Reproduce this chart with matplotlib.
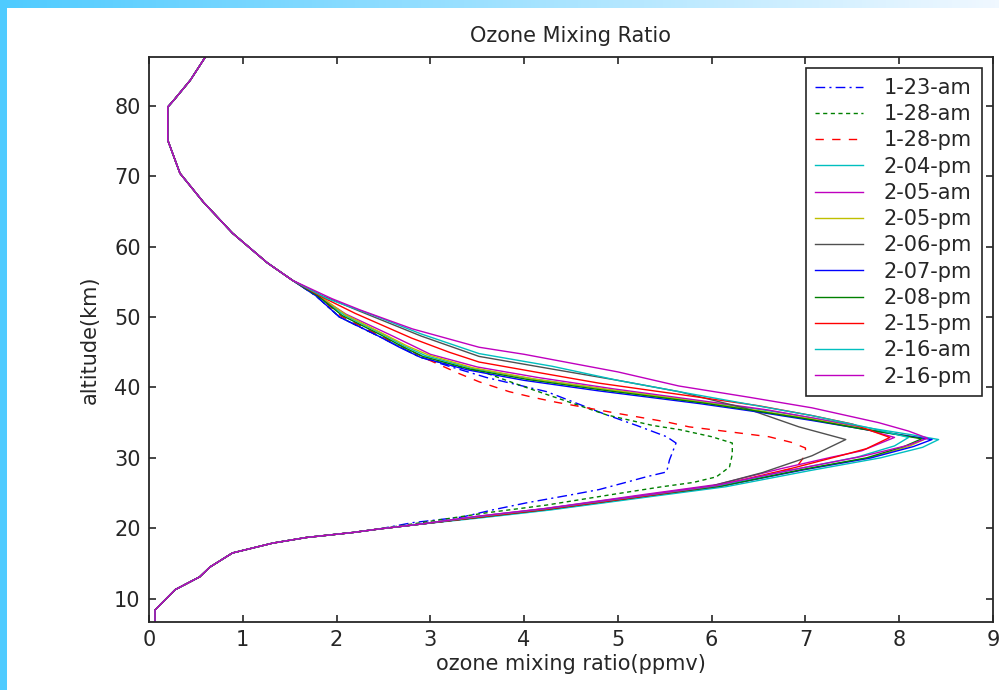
import numpy as np
import matplotlib
matplotlib.use("Agg")
import matplotlib.pyplot as plt
from matplotlib.patches import Rectangle

plt.rcParams['font.family'] = ['DejaVu Sans']

# shared parts of every profile (x = ppmv, alt = km)
top_part = [(0.63, 87.5), (0.44, 83.6), (0.26, 80.7), (0.20, 79.8), (0.20, 75.1),
            (0.33, 70.4), (0.58, 66.3), (0.89, 61.9), (1.26, 57.7), (1.53, 55.2)]
bottom_part = [(2.45, 19.9), (2.17, 19.4), (1.68, 18.7), (1.32, 17.9), (0.89, 16.5),
               (0.65, 14.5), (0.54, 13.1), (0.28, 11.3), (0.064, 8.4), (0.064, 6.0)]

# middle of each profile
mid_0123am = [(1.78, 53.0), (2.03, 50.0), (2.46, 47.2), (2.89, 44.3), (3.2, 43.0), (3.6, 41.4),
              (4.24, 39.4), (4.88, 36.1), (5.2, 34.6), (5.52, 33.0), (5.62, 32.1), (5.55, 29.7),
              (5.52, 28.0), (5.3, 27.3), (5.08, 26.5), (4.8, 25.5), (4.52, 24.8), (4.02, 23.6),
              (3.66, 22.6), (3.34, 21.6), (2.81, 20.8)]
mid_0128am = [(1.78, 53.0), (2.03, 50.0), (2.46, 47.2), (2.89, 44.3), (3.2, 43.2), (3.56, 42.2),
              (4.02, 40.0), (4.66, 37.1), (4.88, 36.1), (5.37, 34.6), (5.66, 34.0), (6.0, 33.0),
              (6.22, 32.1), (6.22, 30.5), (6.19, 28.7), (6.05, 27.3), (5.8, 26.5), (5.47, 25.9),
              (4.94, 24.8), (4.24, 23.3), (3.6, 22.2), (2.9, 20.8)]
mid_0128pm = [(1.80, 53.0), (2.05, 50.1), (2.47, 47.3), (2.7, 45.8), (3.0, 43.8), (3.3, 42.0),
              (3.52, 40.8), (3.84, 39.4), (4.09, 38.6), (4.34, 37.9), (5.0, 36.3), (5.52, 35.1),
              (5.76, 34.4), (6.19, 33.7), (6.61, 33.0), (6.85, 32.2), (7.0, 31.4), (7.0, 30.4),
              (6.9, 28.6), (6.1, 26.1), (5.3, 24.6), (4.24, 22.7), (3.53, 21.6), (2.9, 20.6)]
mid_0204pm = [(1.80, 53.0), (2.08, 50.3), (2.5, 47.5), (2.72, 45.9), (2.95, 44.5), (3.45, 42.7),
              (4.1, 41.2), (4.9, 39.7), (5.95, 37.9), (6.6, 36.7), (7.15, 35.5), (7.7, 34.2),
              (8.12, 33.3), (8.42, 32.6), (8.25, 31.5), (7.8, 30.0), (7.05, 28.2), (6.15, 25.9),
              (5.35, 24.5), (4.28, 22.6), (3.55, 21.5), (2.9, 20.6)]
mid_0205am = [(1.80, 53.0), (2.1, 50.4), (2.55, 47.6), (2.8, 46.0), (3.0, 44.7), (3.5, 42.9),
              (4.15, 41.4), (4.95, 39.8), (5.95, 38.0), (6.6, 36.8), (7.1, 35.6), (7.55, 34.4),
              (7.95, 32.9), (7.6, 31.0), (7.28, 30.1), (6.75, 28.5), (6.05, 26.2), (5.28, 24.8),
              (4.22, 22.8), (3.5, 21.7), (2.9, 20.6)]
mid_0205pm = [(1.82, 53.0), (2.1, 50.3), (2.5, 47.6), (2.75, 45.9), (2.98, 44.6), (3.45, 42.8),
              (4.1, 41.2), (4.9, 39.7), (5.9, 37.9), (6.5, 36.7), (7.07, 35.5), (7.6, 34.2),
              (8.0, 33.3), (8.28, 32.7), (8.1, 31.6), (7.68, 30.0), (6.96, 28.3), (6.1, 26.0),
              (5.3, 24.6), (4.24, 22.7), (3.53, 21.6), (2.9, 20.6)]
mid_0206pm = [(1.85, 53.0), (2.25, 50.8), (2.9, 47.3), (3.52, 44.4), (4.3, 42.6), (5.0, 41.0),
              (5.65, 39.4), (6.37, 37.0), (6.93, 34.4), (7.43, 32.6), (7.07, 30.3), (6.54, 27.9),
              (6.0, 26.0), (5.3, 24.6), (4.24, 22.7), (3.53, 21.6), (2.9, 20.6)]
mid_0207pm = [(1.78, 53.0), (2.03, 50.0), (2.46, 47.2), (2.67, 45.7), (2.89, 44.3), (3.39, 42.5),
              (4.0, 41.0), (4.80, 39.5), (5.87, 37.7), (6.5, 36.5), (7.07, 35.3), (7.65, 34.0),
              (8.05, 33.2), (8.35, 32.6), (8.15, 31.6), (7.7, 30.0), (6.98, 28.3), (6.1, 26.0),
              (5.3, 24.6), (4.24, 22.7), (3.53, 21.6), (2.9, 20.6)]
mid_0208pm = [(1.80, 53.0), (2.06, 50.2), (2.48, 47.4), (2.70, 45.8), (2.92, 44.4), (3.42, 42.6),
              (4.05, 41.1), (4.85, 39.6), (5.9, 37.8), (6.5, 36.6), (7.07, 35.4), (7.6, 34.1),
              (7.98, 33.3), (8.24, 32.7), (8.05, 31.6), (7.65, 30.0), (6.95, 28.3), (6.1, 26.0),
              (5.3, 24.6), (4.24, 22.7), (3.53, 21.6), (2.9, 20.6)]
mid_0215pm = [(1.85, 52.8), (2.2, 50.5), (2.8, 47.0), (3.2, 45.0), (3.52, 43.6), (4.2, 42.0),
              (4.8, 40.6), (5.87, 38.6), (6.5, 37.4), (7.07, 36.0), (7.5, 34.8), (7.9, 32.9),
              (7.65, 31.3), (7.4, 30.4), (6.85, 28.5), (6.08, 26.1), (5.3, 24.6), (4.24, 22.7),
              (3.53, 21.6), (2.9, 20.6)]
mid_0216am = [(1.9, 52.6), (2.4, 50.2), (2.9, 47.6), (3.52, 44.8), (4.3, 43.0), (5.0, 41.0),
              (5.65, 39.4), (6.4, 37.6), (7.07, 36.0), (7.7, 34.2), (8.1, 32.9), (7.95, 31.7),
              (7.55, 30.1), (6.9, 28.4), (6.08, 26.1), (5.3, 24.7), (4.24, 22.8), (3.53, 21.7),
              (2.9, 20.6)]
mid_0216pm = [(1.95, 52.6), (2.25, 51.0), (2.81, 48.3), (3.52, 45.7), (4.0, 44.7), (5.0, 42.2),
              (5.65, 40.2), (6.4, 38.6), (7.07, 37.1), (7.78, 35.0), (8.1, 33.8), (8.3, 32.8),
              (8.1, 31.8), (7.6, 30.2), (6.9, 28.4), (6.05, 26.1), (5.28, 24.7), (4.22, 22.8),
              (3.5, 21.7), (2.9, 20.6)]

labels = ['1-23-am', '1-28-am', '1-28-pm', '2-04-pm', '2-05-am', '2-05-pm',
          '2-06-pm', '2-07-pm', '2-08-pm', '2-15-pm', '2-16-am', '2-16-pm']
mids = [mid_0123am, mid_0128am, mid_0128pm, mid_0204pm, mid_0205am, mid_0205pm,
        mid_0206pm, mid_0207pm, mid_0208pm, mid_0215pm, mid_0216am, mid_0216pm]
colors = ['#0000ff', '#008000', '#ff0000', '#00bfbf', '#bf00bf', '#bfbf00',
          '#505050', '#0000ff', '#008000', '#ff0000', '#00bfbf', '#bf00bf']
dashes = [(7, 3, 1.5, 3), (3, 2.5), (6, 6)] + [None] * 9

fig = plt.figure(figsize=(9.99, 6.9), dpi=100)

# slide decoration: blue bar on the left, gradient strip on top
fig.add_artist(Rectangle((0, 0), 7 / 999, 1, transform=fig.transFigure,
                         facecolor='#4fcbff', edgecolor='none'))
strip = fig.add_axes([0, 1 - 8 / 690, 1, 8 / 690])
grad = np.linspace(0, 1, 256)[None, :]
cmap = matplotlib.colors.LinearSegmentedColormap.from_list('g', ['#4fcbff', '#f0f8ff'])
strip.imshow(grad, aspect='auto', cmap=cmap)
strip.axis('off')

ax = fig.add_axes([149 / 999, 1 - 622 / 690, 844 / 999, 565 / 690])

for lab, mid, col, ds in zip(labels, mids, colors, dashes):
    pts = np.array(top_part + mid + bottom_part)
    line, = ax.plot(pts[:, 0], pts[:, 1], color=col, lw=1.0, label=lab)
    if ds is not None:
        line.set_dashes(ds)

ax.set_xlim(0, 9)
ax.set_ylim(6.7, 86.9)
ax.set_xticks(range(0, 10))
ax.set_yticks(range(10, 90, 10))
ax.tick_params(direction='in', top=True, right=True, length=5, width=1.2,
               labelsize=15, colors='#262626', pad=6)
for s in ax.spines.values():
    s.set_linewidth(1.3)
    s.set_color('#262626')

ax.set_title('Ozone Mixing Ratio', fontsize=15, color='#262626', pad=11)
ax.set_xlabel('ozone mixing ratio(ppmv)', fontsize=15, color='#262626', labelpad=3)
ax.set_ylabel('altitude(km)', fontsize=15, color='#262626', labelpad=10)

leg = ax.legend(loc='upper right', fontsize=15, handlelength=2.3, handletextpad=1.0,
                labelspacing=0.3, borderaxespad=0.55, fancybox=False, framealpha=1,
                edgecolor='#262626', borderpad=0.45)
leg.get_frame().set_linewidth(1.2)
for t in leg.get_texts():
    t.set_color('#262626')

fig.savefig('out.png', dpi=100)
